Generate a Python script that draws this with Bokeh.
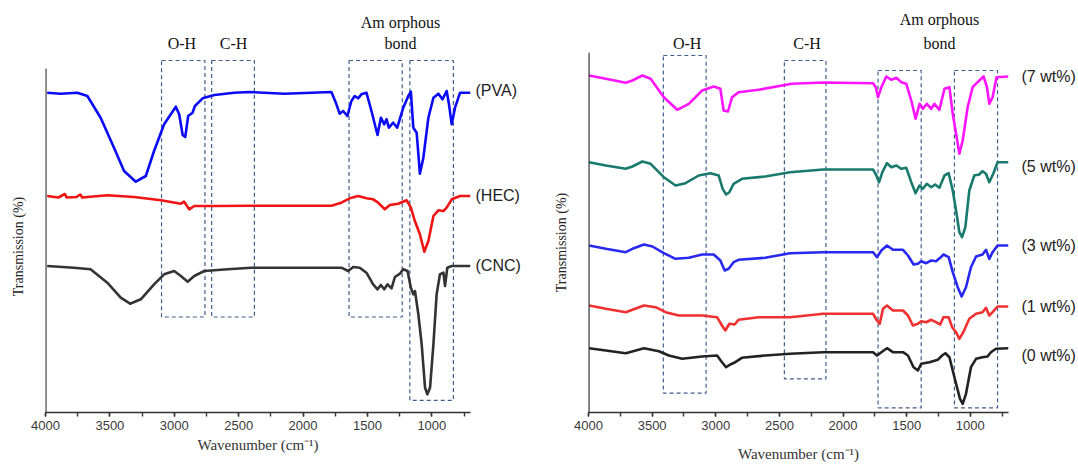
import math
from bokeh.plotting import figure
from bokeh.models import Range1d, Arrow, SingleIntervalTicker, FixedTicker, LinearAxis
from bokeh.layouts import row
from bokeh.embed import file_html
from bokeh.resources import INLINE

# ---------------- data: left panel (pure components) ----------------
pva_wn = [3987, 3883, 3753, 3675, 3572, 3468, 3390, 3299, 3221, 3157, 3079, 2988, 2962, 2935, 2915,
          2892, 2858, 2840, 2780, 2689, 2534, 2417, 2144, 1780, 1741, 1716, 1689, 1656, 1625, 1599,
          1573, 1547, 1508, 1469, 1422, 1396, 1370, 1352, 1334, 1300, 1269, 1222, 1183, 1163, 1144,
          1118, 1093, 1066, 1027, 988, 949, 918, 885, 867, 846, 820, 781, 700]
pva_t = [312.8, 311.8, 312.8, 309.5, 287.8, 257.8, 234.5, 223.8, 229.5, 254.5, 281.2, 298.8, 291.2, 270.5, 268.5,
         289.5, 292.8, 299.5, 307.2, 310.5, 312.8, 313.5, 311.8, 313.5, 301.2, 291.8, 294.5, 289.5, 304.5, 309.5,
         307.2, 311.2, 312.8, 294.5, 270.5, 287.8, 281.2, 286.2, 277.8, 282.8, 277.8, 297.8, 309.5, 313.8, 277.8,
         272.8, 231.8, 247.8, 287.8, 307.8, 311.8, 306.2, 314.5, 301.2, 281.2, 297.8, 312.8, 312.8]

hec_wn = [3987, 3900, 3850, 3835, 3760, 3730, 3715, 3520, 3312, 3104, 2949, 2925, 2884, 2845, 2689,
          2403, 1780, 1703, 1638, 1573, 1508, 1456, 1417, 1365, 1326, 1261, 1196, 1163, 1132, 1093,
          1059, 1027, 988, 949, 910, 885, 846, 781, 700]
hec_t = [209.5, 208.0, 211.5, 208.0, 208.5, 211.0, 208.0, 210.2, 208.5, 205.2, 201.8, 204.0, 196.2, 199.5, 199.5,
         199.8, 199.8, 202.8, 207.2, 209.5, 207.2, 206.2, 202.8, 196.2, 200.5, 201.8, 205.2, 197.8, 184.5, 171.2,
         153.8, 164.5, 189.5, 195.2, 194.5, 197.8, 206.2, 209.5, 209.5]

cnc_wn = [3987, 3780, 3650, 3520, 3416, 3343, 3260, 3157, 3079, 3001, 2949, 2896, 2845, 2767, 2585,
          2403, 1703, 1650, 1611, 1560, 1508, 1456, 1422, 1396, 1370, 1344, 1313, 1287, 1248, 1222,
          1189, 1163, 1144, 1131, 1105, 1079, 1053, 1035, 1014, 988, 963, 937, 910, 898, 880, 846, 700]
cnc_t = [139.5, 137.8, 136.2, 122.8, 107.8, 101.8, 106.2, 121.2, 131.2, 134.5, 129.5, 123.8, 129.5, 134.5, 136.2,
         137.8, 137.8, 134.5, 138.5, 137.8, 132.8, 121.2, 116.2, 120.5, 116.2, 121.2, 117.2, 128.5, 131.8, 136.2,
         134.5, 117.8, 111.2, 114.5, 91.2, 61.2, 17.8, 11.2, 17.8, 61.2, 111.2, 131.2, 132.8, 119.5, 137.8, 139.5, 139.5]

left_names = ["(PVA)", "(HEC)", "(CNC)"]
left_name_levels = [315, 210, 140]
left_colors = ["#0a0af5", "#f01414", "#333333"]

# highlighted regions (wavenumber from, to, lower and upper transmission, a.u.)
left_reg_from = [3099, 2710, 1643, 1171]
left_reg_to = [2762, 2378, 1230, 833]
left_reg_low = [88.5, 88.5, 88.5, 5.2]
left_reg_high = [345, 345, 345, 345]

# ---------------- data: right panel (composites) ----------------
w7_wn = [3995, 3864, 3707, 3655, 3577, 3512, 3408, 3303, 3212, 3107, 3016, 2964, 2938, 2904, 2872,
         2821, 2664, 2403, 2156, 1764, 1743, 1725, 1699, 1660, 1620, 1581, 1542, 1503, 1464, 1430,
         1399, 1373, 1342, 1307, 1282, 1243, 1203, 1164, 1138, 1112, 1086, 1060, 1021, 982, 943,
         896, 869, 851, 825, 794, 700]
w7_t = [337, 333.7, 329.7, 332, 337, 333.7, 315.3, 302.7, 308.7, 322, 326, 323.7, 302, 301, 315.3,
        320.3, 322.7, 328.7, 330, 329.3, 325.3, 315.3, 325.3, 336, 332.7, 334.7, 330.3, 328.7, 312, 293.7,
        308.7, 303.7, 308.7, 303.7, 308.7, 302.7, 323.7, 325.3, 298.7, 278.7, 258.7, 272, 305.3, 325.3, 330.3,
        336, 325.3, 308.7, 315.3, 335.3, 336]

w5_wn = [3995, 3864, 3707, 3655, 3577, 3512, 3408, 3316, 3238, 3134, 3042, 2977, 2946, 2919, 2893,
         2860, 2794, 2612, 2416, 2156, 1764, 1738, 1717, 1691, 1655, 1620, 1581, 1542, 1503, 1464,
         1430, 1399, 1373, 1342, 1307, 1277, 1243, 1203, 1170, 1138, 1112, 1086, 1065, 1039, 1008,
         969, 930, 904, 877, 851, 820, 786, 700]
w5_t = [250.3, 247, 243.7, 246, 251, 248.7, 235.3, 227, 229.3, 237, 239.3, 237, 223.7, 218, 220.3,
        228.7, 233.7, 236, 240.3, 243, 243, 237, 230.3, 240.3, 249.3, 245.3, 247, 243.7, 244.7, 230.3,
        219.3, 227, 223.7, 228.7, 225.3, 228, 224.7, 237, 239.3, 222, 202, 180.3, 175.3, 185.3, 222,
        237, 238, 241.3, 238.7, 230.3, 238.7, 250.3, 250.3]

w3_wn = [3995, 3864, 3707, 3655, 3564, 3498, 3408, 3316, 3212, 3107, 3016, 2964, 2930, 2899, 2860,
         2821, 2612, 2416, 2156, 1764, 1733, 1699, 1655, 1608, 1529, 1490, 1446, 1412, 1386, 1347,
         1307, 1269, 1237, 1211, 1170, 1138, 1099, 1068, 1034, 995, 955, 904, 877, 851, 825, 786, 700]
w3_t = [167, 163.7, 160.3, 163.7, 168, 166, 159.3, 153.7, 154.7, 158, 158, 152, 142, 143.7, 150.3,
        152.7, 154.7, 159.3, 160.3, 160.3, 155.3, 162, 167, 162.7, 162.7, 157, 148, 148.7, 151.3, 149.3,
        152, 151.3, 154.7, 158, 155.3, 140.3, 125.3, 116, 125.3, 145.3, 156, 158, 162.7, 153.7, 160.3, 167, 167]

w1_wn = [3995, 3864, 3707, 3655, 3564, 3473, 3394, 3290, 3107, 2990, 2951, 2925, 2893, 2852, 2821,
         2664, 2416, 2156, 1764, 1733, 1712, 1686, 1655, 1608, 1529, 1490, 1451, 1412, 1386, 1347,
         1307, 1269, 1237, 1211, 1170, 1143, 1112, 1086, 1055, 1008, 955, 904, 877, 851, 825, 786, 700]
w1_t = [107, 103.7, 100.3, 102.7, 107, 105.3, 100.3, 97, 97, 95.3, 87, 82, 88.7, 88, 92.7,
        95.3, 95.3, 98.7, 98.7, 92, 88.7, 103.7, 107, 102, 102, 97, 87, 88.7, 91.3, 90.3,
        92.7, 90.3, 88, 95.3, 95.3, 85.3, 80.3, 73.7, 80.3, 93.7, 98.7, 100.3, 104.7, 97, 100.3, 106, 106]

w0_wn = [3995, 3864, 3707, 3564, 3447, 3369, 3264, 3107, 2990, 2951, 2919, 2886, 2847, 2795, 2612,
         2416, 2156, 1764, 1733, 1699, 1655, 1608, 1529, 1490, 1446, 1412, 1386, 1321, 1256, 1222,
         1196, 1164, 1138, 1112, 1081, 1060, 1034, 995, 955, 904, 865, 838, 799, 700]
w0_t = [64.3, 62, 59.3, 64.3, 61.3, 57, 53.7, 56, 57, 50.3, 45.3, 48, 50.3, 54.7, 57,
        58.7, 60.3, 60.3, 57, 60.3, 64.3, 60.3, 60.3, 57, 45.3, 42, 48.7, 50.3, 52.7, 57,
        59.3, 55.3, 42, 28.7, 13.7, 8.7, 18.7, 45.3, 53.7, 55.3, 56, 60.3, 63.7, 64.3]

right_names = ["(7 wt%)", "(5 wt%)", "(3 wt%)", "(1 wt%)", "(0 wt%)"]
right_name_levels = [336, 246, 167, 106, 57]
right_colors = ["#ff14ff", "#177a6c", "#2828f0", "#f03030", "#222222"]

right_reg_from = [3412, 2461, 1725, 1125]
right_reg_to = [3076, 2134, 1386, 786]
right_reg_low = [19.3, 33.7, 4.7, 4.7]
right_reg_high = [357, 352, 342, 342]

# band headings: (wavenumber: text); first row nearest the frame, second row above it
left_heads_row1 = {2941: "O-H", 2540: "C-H", 1243: "bond"}
left_heads_row2 = {1243: "Am orphous"}
right_heads_row1 = {3225: "O-H", 2283: "C-H", 1242: "bond"}
right_heads_row2 = {1242: "Am orphous"}

SERIF = "Liberation Serif"
SANS = "Liberation Sans"
BOXC = "#3f5f8f"
YLABEL = "Transmission (%)"
XLABEL = "Wavenumber (cm\u207b\u00b9)"


def hide_ticks(ax):
    ax.axis_line_color = None
    ax.major_tick_line_color = None
    ax.minor_tick_line_color = None
    ax.major_tick_out = 0
    ax.major_tick_in = 0
    ax.minor_tick_out = 0
    ax.minor_tick_in = 0


def text_axis(labels_map, standoff, font, size, color="#111111"):
    ax = LinearAxis(ticker=FixedTicker(ticks=list(labels_map.keys())),
                    major_label_overrides=dict(labels_map))
    hide_ticks(ax)
    ax.major_label_standoff = standoff
    ax.major_label_text_font = font
    ax.major_label_text_font_size = size
    ax.major_label_text_color = color
    return ax


def make_fig(width, ystart, yend, bl, br, xlabel_standoff, ylabel_level):
    p = figure(width=width, height=466, x_range=Range1d(4000, 700), y_range=Range1d(ystart, yend),
               output_backend="svg", toolbar_location=None,
               min_border_left=bl, min_border_right=br, min_border_top=52, min_border_bottom=54)
    p.outline_line_color = None
    p.xgrid.visible = False
    p.ygrid.visible = False
    ax = p.xaxis[0]
    ax.ticker = SingleIntervalTicker(interval=500, num_minor_ticks=2)
    ax.axis_line_color = "#333333"
    ax.axis_line_width = 1.6
    ax.major_tick_in = 0
    ax.major_tick_out = 4
    ax.minor_tick_in = 0
    ax.minor_tick_out = 4
    ax.major_tick_line_color = "#333333"
    ax.minor_tick_line_color = "#333333"
    ax.major_tick_line_width = 1.4
    ax.minor_tick_line_width = 1.4
    ax.major_label_text_font = SANS
    ax.major_label_text_font_size = "13px"
    ax.major_label_text_color = "#3a3a3a"
    ax.major_label_standoff = 4
    ax.axis_label = XLABEL
    ax.axis_label_text_font = SERIF
    ax.axis_label_text_font_size = "15px"
    ax.axis_label_text_font_style = "normal"
    ax.axis_label_text_color = "#333333"
    ax.axis_label_standoff = xlabel_standoff
    # y axis: no ticks, only the rotated title placed at a chosen height
    ya = p.yaxis[0]
    ya.ticker = FixedTicker(ticks=[ylabel_level])
    ya.major_label_overrides = {ylabel_level: YLABEL}
    hide_ticks(ya)
    ya.major_label_orientation = "parallel"
    ya.major_label_standoff = 20
    ya.major_label_text_font = SERIF
    ya.major_label_text_font_size = "14px"
    ya.major_label_text_color = "#222222"
    return p


# ---------------- left panel ----------------
p1 = make_fig(538, -7, 353, 45, 68, 4, 159)
p1.add_layout(Arrow(end=None, x_start=4000, y_start=-7, x_end=4000, y_end=337,
                    line_width=2.2, line_color="#333333"))
p1.quad(left=left_reg_from, right=left_reg_to, bottom=left_reg_low, top=left_reg_high,
        fill_color=None, line_color=BOXC, line_dash="4 3", line_width=1.2)
for wn, t, c in zip([pva_wn, hec_wn, cnc_wn], [pva_t, hec_t, cnc_t], left_colors):
    p1.line(wn, t, line_color=c, line_width=2.6, line_join="round")
p1.add_layout(text_axis(dict(zip(left_name_levels, left_names)), 5, SANS, "16px", "#222222"), "right")
p1.add_layout(text_axis(left_heads_row1, 1, SERIF, "16px"), "above")
p1.add_layout(text_axis(left_heads_row2, 1, SERIF, "16px"), "above")

# ---------------- right panel ----------------
p2 = make_fig(540, 0, 360, 50, 68, 13, 170)
p2.add_layout(Arrow(end=None, x_start=4000, y_start=0, x_end=4000, y_end=360,
                    line_width=2.2, line_color="#222222"))
p2.quad(left=right_reg_from, right=right_reg_to, bottom=right_reg_low, top=right_reg_high,
        fill_color=None, line_color=BOXC, line_dash="4 3", line_width=1.2)
for wn, t, c in zip([w7_wn, w5_wn, w3_wn, w1_wn, w0_wn], [w7_t, w5_t, w3_t, w1_t, w0_t], right_colors):
    p2.line(wn, t, line_color=c, line_width=2.6, line_join="round")
p2.add_layout(text_axis(dict(zip(right_name_levels, right_names)), 13, SANS, "16px", "#222222"), "right")
p2.add_layout(text_axis(right_heads_row1, 1, SERIF, "16px"), "above")
p2.add_layout(text_axis(right_heads_row2, 4, SERIF, "16px"), "above")

layout = row(p1, p2)
open("out.html", "w").write(file_html(layout, INLINE))
